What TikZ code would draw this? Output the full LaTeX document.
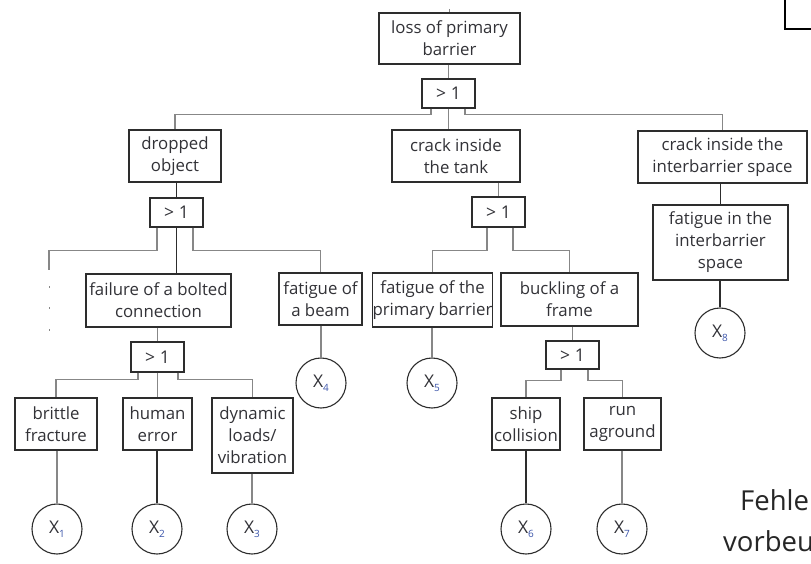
\documentclass[tikz,border=0pt]{standalone}
\usepackage{fontspec}
\setmainfont{Open Sans}
\usetikzlibrary{calc}
\definecolor{linegray}{RGB}{135,135,135}
\definecolor{boxcol}{RGB}{45,45,45}
\definecolor{txtcol}{RGB}{50,50,55}
\definecolor{subcol}{RGB}{60,85,170}
\newcommand{\xlab}[1]{X\raisebox{-4pt}{\fontsize{10}{10}\selectfont\color{subcol}#1}}
\tikzset{
  fbox/.style={draw=boxcol, line width=1.2pt, rectangle, inner sep=0pt, align=center,
    text=txtcol, font=\fontsize{16.8}{22}\selectfont},
  gatebox/.style={fbox, minimum width=53pt, minimum height=29pt, font=\fontsize{17.5}{20}\selectfont},
  xcirc/.style={draw=boxcol, line width=1.1pt, circle, minimum size=50pt, inner sep=0pt,
    text=txtcol, font=\fontsize{17.5}{20}\selectfont},
  conn/.style={draw=linegray, line width=1.3pt},
  connd/.style={draw=boxcol, line width=1.3pt},
  bigtext/.style={anchor=base west, inner sep=0pt, text=black!85, font=\fontsize{27.5}{30}\selectfont},
}
\begin{document}
\begin{tikzpicture}[x=1pt,y=-1pt]
\fill[white] (0,0) rectangle (811,564);
\useasboundingbox (0,0) rectangle (811,564);
\begin{scope}
\clip (0,0) rectangle (811,564);
% level 0
\node[fbox, minimum width=141pt, minimum height=51pt] (top) at (449.5,38.5) {loss of primary\\barrier};
\node[gatebox] (g0) at (448.5,93.5) {> 1};
% level 1
\node[fbox, minimum width=92pt, minimum height=52pt] (drop) at (175,156) {dropped\\object};
\node[fbox, minimum width=128pt, minimum height=52pt] (tank) at (456,156) {crack inside\\the tank};
\node[fbox, minimum width=169pt, minimum height=52pt] (inter) at (722.5,157) {crack inside the\\interbarrier space};
\node[gatebox] (g1) at (176.5,212.5) {> 1};
\node[gatebox, minimum height=30pt] (g2) at (498.5,212) {> 1};
\node[fbox, minimum width=135pt, minimum height=75pt] (fatin) at (720.5,242.5) {fatigue in the\\interbarrier\\space};
% level 2
\node[fbox, minimum width=145pt, minimum height=53pt] (bolt) at (158.5,300.5) {failure of a bolted\\connection};
\node[fbox, minimum width=83pt, minimum height=52pt] (beam) at (320.5,299) {fatigue of\\a beam};
\node[fbox, minimum width=119pt, minimum height=54pt] (prim) at (432.5,300) {fatigue of the\\primary barrier};
\node[fbox, minimum width=137pt, minimum height=53pt] (buck) at (569.5,299.5) {buckling of a\\frame};
\node[xcirc] (x8) at (720,333) {\xlab{8}};
\node[gatebox, minimum height=30pt] (g3) at (157.5,357) {> 1};
\node[xcirc] (x4) at (321,383) {\xlab{4}};
\node[xcirc] (x5) at (432,383) {\xlab{5}};
\node[gatebox, minimum height=28pt] (g4) at (572.5,355) {> 1};
% level 3
\node[fbox, minimum width=82pt, minimum height=52pt] (brit) at (56,424) {brittle\\fracture};
\node[fbox, minimum width=69pt, minimum height=52pt] (hum) at (157.5,424) {human\\error};
\node[fbox, minimum width=81pt, minimum height=75pt] (dyn) at (252.5,435.5) {dynamic\\loads/\\vibration};
\node[fbox, minimum width=68pt, minimum height=52pt] (ship) at (526,424) {ship\\collision};
\node[fbox, minimum width=77pt, minimum height=52pt] (run) at (622.5,424) {run\\aground};
\node[xcirc] (x1) at (57,529) {\xlab{1}};
\node[xcirc] (x2) at (157,529) {\xlab{2}};
\node[xcirc] (x3) at (252,529) {\xlab{3}};
\node[xcirc] (x6) at (526,529) {\xlab{6}};
\node[xcirc] (x7) at (622,529) {\xlab{7}};
% connectors
\coordinate (stub) at (449.5,9);
\draw[conn] (stub) -- (top.north);
\draw[conn] (top.south -| g0.north) -- (g0.north);
\draw[conn] ([xshift=-17.5pt]g0.south) -- ++(0,6) -| (drop.north);
\draw[conn] (g0.south) -- (g0.south |- tank.north);
\draw[conn] ([xshift=16.5pt]g0.south) -- ++(0,6) -| (inter.north);
\draw[connd] (drop.south -| g1.north) -- (g1.north);
\draw[conn] (tank.south -| g2.north) -- (g2.north);
\draw[connd] (inter.south -| fatin.north) -- (fatin.north);
\coordinate (cut) at (49,270);
\draw[conn] ([xshift=-19.5pt]g1.south) -- ++(0,23) -| (cut);
\foreach \yy in {286,307,329} \draw[conn, line width=1pt] (49,\yy) -- (49,\yy+1.5);
\draw[connd] (g1.south) -- (g1.south |- bolt.north);
\draw[conn] ([xshift=16.5pt]g1.south) -- ++(0,23) -| (beam.north);
\draw[conn] ([xshift=-11.5pt]g2.south) -- ++(0,23) -| (prim.north);
\draw[conn] ([xshift=14.5pt]g2.south) -- ++(0,23) -| (buck.north);
\draw[connd] (fatin.south -| x8.north) -- (x8.north);
\draw[conn] (bolt.south -| g3.north) -- (g3.north);
\draw[conn] (beam.south -| x4.north) -- (x4.north);
\draw[conn] (prim.south -| x5.north) -- (x5.north);
\draw[conn] (buck.south -| g4.north) -- (g4.north);
\draw[conn] ([xshift=-19.5pt]g3.south) -- ++(0,7) -| (brit.north);
\draw[conn] (g3.south) -- (g3.south |- hum.north);
\draw[conn] ([xshift=20.5pt]g3.south) -- ++(0,7) -| (dyn.north);
\draw[conn] ([xshift=-11.5pt]g4.south) -- ++(0,11) -| (ship.north);
\draw[conn] ([xshift=15.5pt]g4.south) -- ++(0,11) -| (run.north);
\draw[conn] (brit.south -| x1.north) -- (x1.north);
\draw[connd] (hum.south -| x2.north) -- (x2.north);
\draw[conn] (dyn.south -| x3.north) -- (x3.north);
\draw[connd] (ship.south -| x6.north) -- (x6.north);
\draw[conn] (run.south -| x7.north) -- (x7.north);
% top-right corner mark
\coordinate (c1) at (785,0);
\coordinate (c2) at (811,29);
\draw[black, line width=2pt] (c1) |- (c2);
% background text
\node[bigtext] (t1) at (740,510) {Fehle};
\node[bigtext] (t2) at (723,551) {vorbeu};
\end{scope}
\end{tikzpicture}
\end{document}
